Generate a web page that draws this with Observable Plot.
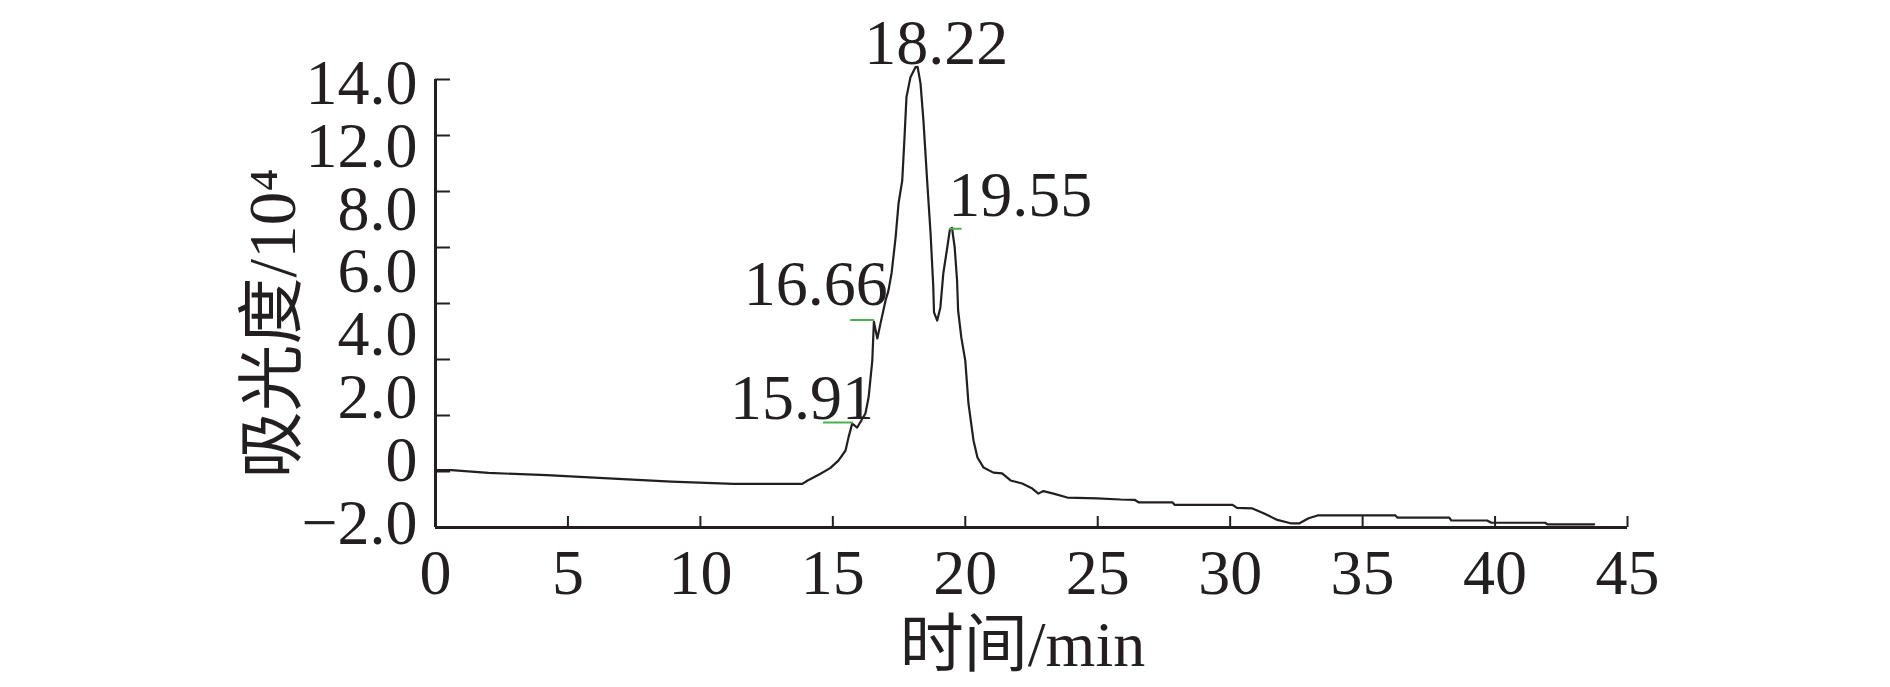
<!DOCTYPE html>
<html>
<head>
<meta charset="utf-8">
<script src="https://cdn.jsdelivr.net/npm/d3@7"></script>
<script src="https://cdn.jsdelivr.net/npm/@observablehq/plot@0.6"></script>
<style>
  html, body { margin: 0; padding: 0; background: #fff; }
</style>
</head>
<body>
<div id="chart"></div>
<script>
// ---- data ----
const times = [0, 0.6, 2.0, 4.2, 6.35, 8.9, 11.25, 13.85, 14.05, 14.5, 14.9, 15.21, 15.48, 15.59, 15.73, 15.92,
  16.23, 16.35, 16.49, 16.55, 16.68, 16.80, 16.99, 17.10, 17.22, 17.37, 17.48, 17.62, 17.70, 17.78, 17.93,
  18.12, 18.2, 18.31, 18.42, 18.56, 18.69, 18.79, 18.82, 18.94, 19.06, 19.17, 19.32, 19.42, 19.5, 19.6,
  19.69, 19.73, 19.85, 20.0, 20.12, 20.31, 20.46, 20.69, 21.06, 21.39, 21.71, 22.15, 22.53, 22.76, 22.95,
  23.33, 23.85, 24.98, 25.86, 26.39, 26.54, 27.82, 27.90, 30.09, 30.26, 30.84, 31.26, 31.78, 32.28, 32.62,
  32.96, 33.30, 36.24, 36.32, 38.27, 38.35, 39.70, 39.86, 41.89, 41.98, 43.74];
const absorbance = [0.05, 0.05, -0.05, -0.13, -0.24, -0.36, -0.44, -0.44, -0.32, -0.1, 0.12, 0.39, 0.75, 1.21, 1.71, 1.57,
  2.07, 2.64, 3.96, 5.35, 4.75, 5.29, 6.11, 6.46, 7.1, 8.36, 9.57, 10.39, 11.82, 13.37, 14.08,
  14.44, 14.45, 13.86, 12.54, 10.39, 8.5, 6.64, 5.68, 5.39, 5.86, 7.07, 8.0, 8.65, 8.7, 8.0,
  6.82, 5.75, 4.79, 3.96, 2.43, 1.11, 0.5, 0.14, -0.04, -0.07, -0.32, -0.43, -0.61, -0.79, -0.70,
  -0.79, -0.93, -0.96, -1.0, -1.01, -1.10, -1.10, -1.19, -1.19, -1.30, -1.32, -1.49, -1.73, -1.85, -1.85,
  -1.67, -1.57, -1.57, -1.65, -1.65, -1.75, -1.75, -1.83, -1.83, -1.89, -1.89];

const xTicks = [0, 5, 10, 15, 20, 25, 30, 35, 40, 45];
const yTicks = [-2, 0, 2, 4, 6, 8, 10, 12, 14];
const yTickLabels = ["14.0", "12.0", "8.0", "6.0", "4.0", "2.0", "0", "\u22122.0"];

const peakTimes = [15.91, 16.66, 18.22, 19.55];
const peakHeights = [1.75, 5.4, 14.45, 8.7];
const peakLabels = ["15.91", "16.66", "18.22", "19.55"];

// short green integration marks
const markStart = [14.65, 15.67, 19.41];
const markEnd = [15.78, 16.57, 19.88];
const markLevel = [1.75, 5.41, 8.67];

const xTitle = "时间/min";
const yTitle = "吸光度/10\u2074";

// ---- layout / style ----
const W = 1890, H = 687;
const mL = 435, mR = 263, mT = 79, mB = 160;
const frameW = W - mL - mR, frameH = H - mT - mB;
const FONT = '"Liberation Serif", "Times New Roman", "Noto Sans CJK SC", serif';
const FS = 64;
const INK = "#231f20";
const GREEN = "#4caf50";
const labelOffsets = [[-55, -4], [-61, -15], [18, -3], [67, -12]];
const yLabelInset = [0.14, 0.16]; // label column sits slightly inside the tick range

const trace = times.map((t, i) => ({t, v: absorbance[i]}));
const peaks = peakTimes.map((t, i) => ({t, v: peakHeights[i], label: peakLabels[i]}));
const greens = markStart.map((s, i) => ({x1: s, x2: markEnd[i], y: markLevel[i]}));
const yTop = d3.max(yTicks) - yLabelInset[0], yBot = d3.min(yTicks) + yLabelInset[1];
const yLabelPos = yTickLabels.map((_, i) => yTop - i * (yTop - yBot) / (yTickLabels.length - 1));

const chart = Plot.plot({
  width: W, height: H,
  marginLeft: mL, marginRight: mR, marginTop: mT, marginBottom: mB,
  x: {domain: [0, 45], axis: null},
  y: {domain: [-2, 14], axis: null},
  style: {fontFamily: FONT, background: "#fff", color: INK, overflow: "visible"},
  marks: [
    Plot.line(trace, {x: "t", y: "v", stroke: INK, strokeWidth: 2.2}),
    Plot.ruleY(greens, {y: "y", x1: "x1", x2: "x2", stroke: GREEN, strokeWidth: 2}),
    Plot.ruleX([0], {stroke: INK, strokeWidth: 3}),
    Plot.ruleY([-2], {stroke: INK, strokeWidth: 3}),
    Plot.tickX(xTicks, {x: d => d, insetTop: frameH - 11, stroke: INK, strokeWidth: 2}),
    Plot.tickY(yTicks, {y: d => d, insetRight: frameW - 15, stroke: INK, strokeWidth: 2}),
    Plot.text(xTicks, {x: d => d, y: -2, text: d => String(d), dy: 66, lineAnchor: "bottom", fontSize: FS, fill: INK}),
    Plot.text(yTickLabels, {x: 0, y: (d, i) => yLabelPos[i], text: d => d, textAnchor: "end", dx: -18, lineAnchor: "middle", fontSize: FS, fill: INK}),
    ...peaks.map((p, i) => Plot.text([p], {
      x: "t", y: "v", text: "label", dx: labelOffsets[i][0], dy: labelOffsets[i][1],
      lineAnchor: "bottom", fontSize: FS, fill: INK
    })),
    Plot.text([xTitle], {frameAnchor: "bottom", textAnchor: "middle", dx: -9, dy: 138, lineAnchor: "bottom", fontSize: FS, fill: INK}),
    Plot.text([yTitle], {frameAnchor: "left", textAnchor: "middle", rotate: -90, dx: -162, dy: 20, lineAnchor: "middle", fontSize: 67, fill: INK})
  ]
});
document.getElementById("chart").appendChild(chart);
</script>
</body>
</html>
